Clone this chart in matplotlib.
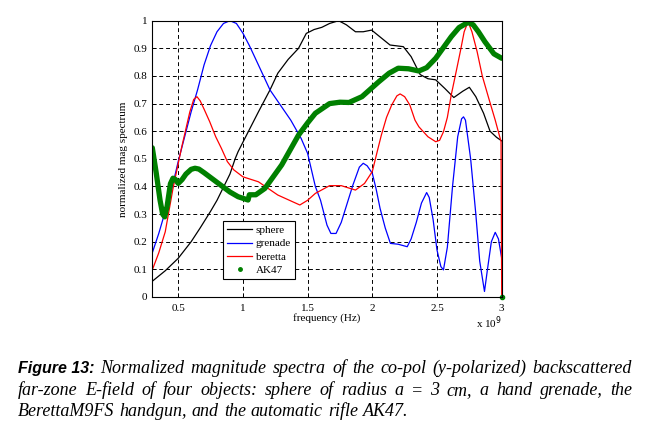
import matplotlib
matplotlib.use('Agg')
import matplotlib.pyplot as plt
from matplotlib.lines import Line2D
from matplotlib.ticker import FixedLocator, FuncFormatter

# frequency in units of 1e9 Hz
sphere_f = [0.3, 0.4, 0.5, 0.6, 0.67, 0.75, 0.8, 0.9, 0.94, 0.963, 1.0, 1.12, 1.21, 1.27,
            1.35, 1.43, 1.49, 1.55, 1.61, 1.67, 1.74, 1.8, 1.87, 1.93, 1.995, 2.05, 2.137,
            2.24, 2.3, 2.37, 2.43, 2.49, 2.56, 2.63, 2.7, 2.75, 2.8, 2.86, 2.91, 2.96, 3.0]
sphere = [0.057, 0.095, 0.14, 0.2, 0.25, 0.31, 0.35, 0.445, 0.5, 0.526, 0.56, 0.67, 0.75, 0.81,
          0.86, 0.9, 0.954, 0.968, 0.976, 0.99, 1.0, 0.985, 0.96, 0.96, 0.966, 0.945, 0.912,
          0.906, 0.87, 0.805, 0.79, 0.786, 0.755, 0.722, 0.745, 0.759, 0.725, 0.665, 0.6, 0.578, 0.565]

grenade_f = [0.3, 0.35, 0.4, 0.45, 0.5, 0.55, 0.6, 0.65, 0.7, 0.75, 0.8, 0.85, 0.9, 0.95, 1.0,
             1.05, 1.1, 1.21, 1.37, 1.45, 1.5, 1.56, 1.6, 1.65, 1.68, 1.72, 1.76, 1.8, 1.85,
             1.9, 1.93, 1.96, 2.0, 2.03, 2.06, 2.1, 2.14, 2.2, 2.27, 2.3, 2.34, 2.38, 2.42,
             2.44, 2.47, 2.5, 2.53, 2.55, 2.58, 2.62, 2.66, 2.69, 2.705, 2.72, 2.76, 2.8,
             2.83, 2.867, 2.89, 2.92, 2.95, 2.975, 3.0]
grenade = [0.16, 0.23, 0.31, 0.39, 0.49, 0.58, 0.67, 0.75, 0.84, 0.91, 0.96, 0.99, 1.0, 0.99,
           0.955, 0.91, 0.86, 0.749, 0.64, 0.574, 0.52, 0.4, 0.35, 0.26, 0.23, 0.23, 0.27, 0.33,
           0.405, 0.47, 0.484, 0.475, 0.448, 0.39, 0.321, 0.25, 0.194, 0.191, 0.182, 0.21,
           0.27, 0.34, 0.378, 0.36, 0.28, 0.17, 0.11, 0.098, 0.18, 0.4, 0.58, 0.645, 0.652,
           0.64, 0.5, 0.3, 0.13, 0.02, 0.1, 0.2, 0.234, 0.21, 0.14]

beretta_f = [0.3, 0.35, 0.4, 0.46, 0.525, 0.59, 0.62, 0.645, 0.67, 0.7, 0.744, 0.79, 0.834,
             0.88, 0.93, 1.0, 1.12, 1.27, 1.44, 1.5, 1.56, 1.67, 1.76, 1.87, 1.94, 2.0, 2.04,
             2.07, 2.11, 2.15, 2.19, 2.215, 2.25, 2.29, 2.33, 2.36, 2.43, 2.49, 2.52, 2.55,
             2.58, 2.61, 2.65, 2.68, 2.71, 2.74, 2.77, 2.81, 2.85, 2.9, 2.95, 2.995, 3.0]
beretta = [0.098, 0.16, 0.236, 0.393, 0.538, 0.67, 0.715, 0.725, 0.71, 0.68, 0.634, 0.58, 0.538,
           0.49, 0.46, 0.435, 0.417, 0.369, 0.333, 0.35, 0.375, 0.403, 0.403, 0.387, 0.411,
           0.454, 0.53, 0.586, 0.65, 0.695, 0.728, 0.735, 0.725, 0.695, 0.64, 0.616, 0.58,
           0.562, 0.567, 0.598, 0.65, 0.731, 0.82, 0.888, 0.96, 0.996, 0.96, 0.888, 0.8,
           0.719, 0.64, 0.562, 0.0]

ak47_f = [0.3, 0.33, 0.36, 0.38, 0.396, 0.415, 0.44, 0.46, 0.48, 0.5, 0.53, 0.56, 0.6, 0.63,
          0.66, 0.7, 0.8, 0.9, 0.963, 1.04, 1.05, 1.1, 1.17, 1.3, 1.43, 1.5, 1.56, 1.67, 1.75,
          1.82, 1.92, 2.05, 2.13, 2.2, 2.28, 2.36, 2.42, 2.49, 2.61, 2.67, 2.74, 2.78, 2.82,
          2.87, 2.94, 3.0, 3.0]
ak47 = [0.54, 0.45, 0.35, 0.3, 0.29, 0.33, 0.41, 0.43, 0.425, 0.411, 0.425, 0.445, 0.462, 0.466,
        0.463, 0.45, 0.415, 0.38, 0.363, 0.351, 0.37, 0.37, 0.393, 0.478, 0.586, 0.63, 0.665,
        0.70, 0.705, 0.704, 0.725, 0.779, 0.81, 0.828, 0.826, 0.818, 0.83, 0.864, 0.942, 0.975,
        0.994, 0.985, 0.96, 0.924, 0.88, 0.864, 0.0]

x_ticks = [0.5, 1, 1.5, 2, 2.5, 3]
y_ticks = [0, 0.1, 0.2, 0.3, 0.4, 0.5, 0.6, 0.7, 0.8, 0.9, 1]

serif = 'Liberation Serif'
W, H = 646, 426

fig = plt.figure(figsize=(W / 100, H / 100), dpi=100)
ax = fig.add_axes([152.3 / W, 1 - 297 / H, 349.4 / W, 276.3 / H])

ax.plot(sphere_f, sphere, color='k', lw=0.9)
ax.plot(grenade_f, grenade, color='b', lw=0.9)
ax.plot(beretta_f, beretta, color='r', lw=0.9)
green = (0, 0.5, 0)
ax.plot(ak47_f[:-1], ak47[:-1], color=green, lw=3.8, solid_capstyle='round',
        solid_joinstyle='round')
ax.plot(ak47_f[-1:], ak47[-1:], '.', color=green, ms=6, clip_on=False)

ax.set_xlim(0.3, 3)
ax.set_ylim(0, 1)
ax.xaxis.set_major_locator(FixedLocator(x_ticks))
ax.yaxis.set_major_locator(FixedLocator(y_ticks))
fmt = FuncFormatter(lambda v, p: '%g' % v)
ax.xaxis.set_major_formatter(fmt)
ax.yaxis.set_major_formatter(fmt)
ax.grid(True, color='k', lw=0.7, ls=(0, (4, 3)))
ax.tick_params(direction='in', length=3, width=0.6, labelsize=8, top=True, right=True)
ax.tick_params(axis='x', pad=5)
for lab in ax.get_xticklabels() + ax.get_yticklabels():
    lab.set_family(serif)
for s in ax.spines.values():
    s.set_linewidth(0.8)

ax.set_xlabel('frequency (Hz)', family=serif, fontsize=8, labelpad=0)
ax.set_ylabel('normalized mag spectrum', family=serif, fontsize=8, labelpad=4)
ax.text(1.0, -0.062, r'x 10$^{9}$', transform=ax.transAxes, ha='right', va='top',
        family=serif, fontsize=8)

handles = [Line2D([], [], color='k', lw=0.9), Line2D([], [], color='b', lw=0.9),
           Line2D([], [], color='r', lw=0.9),
           Line2D([], [], color=green, marker='.', ls='none', ms=5)]
leg = ax.legend(handles, ['sphere', 'grenade', 'beretta', 'AK47'],
                loc='lower left', bbox_to_anchor=(0.202, 0.065), fancybox=False,
                framealpha=1, edgecolor='k', prop={'family': serif, 'size': 8},
                handlelength=2.3, handletextpad=0.3, labelspacing=0.32,
                borderpad=0.35, borderaxespad=0)
leg.get_frame().set_linewidth(0.8)

# caption
cap_kw = dict(family=serif, style='italic', fontsize=13, va='baseline')
bold_kw = dict(family='Liberation Sans', style='italic', weight='bold', fontsize=11.5,
               va='baseline')


def caption_line(parts, y, x0, x1=None):
    texts = []
    for word, kw in parts:
        texts.append(fig.text(0, 1 - y / H, word, **kw))
    fig.canvas.draw()
    r = fig.canvas.get_renderer()
    widths = [t.get_window_extent(r).width for t in texts]
    if x1 is None:
        gap = 5.0
    else:
        gap = (x1 - x0 - sum(widths)) / (len(texts) - 1)
    x = x0
    for t, w in zip(texts, widths):
        t.set_x(x / W)
        x += w + gap


line1 = 'Normalized magnitude spectra of the co-pol (y-polarized) backscattered'
line2 = 'far-zone E-field of four objects: sphere of radius a = 3 cm, a hand grenade, the'
line3 = 'BerettaM9FS handgun, and the automatic rifle AK47.'
caption_line([('Figure 13:', bold_kw)] + [(w, cap_kw) for w in line1.split()], 373, 18, 632)
caption_line([(w, cap_kw) for w in line2.split()], 395, 18, 632)
caption_line([(w, cap_kw) for w in line3.split()], 416, 18)

fig.savefig('out.png', dpi=100)
